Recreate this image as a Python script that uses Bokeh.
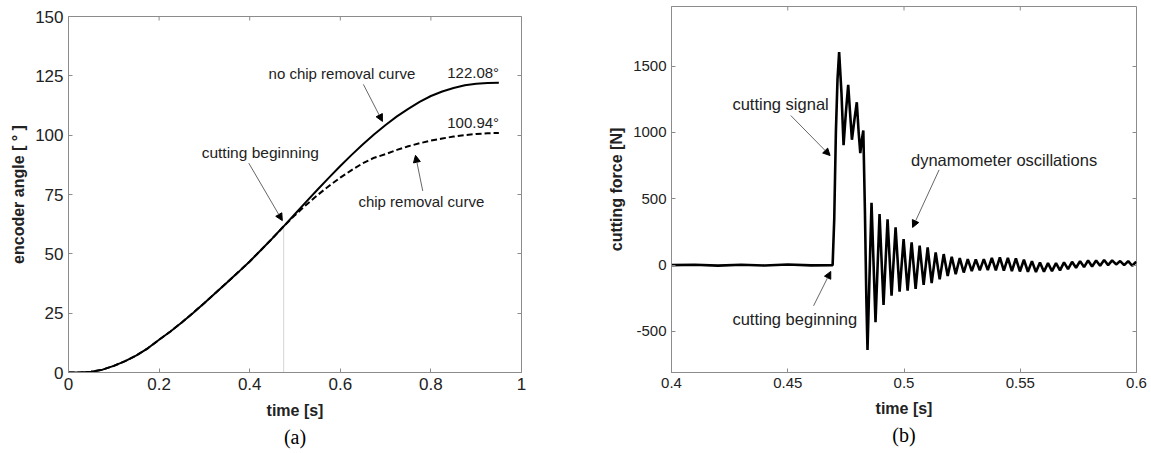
from bokeh.plotting import figure
from bokeh.models import (Range1d, FixedTicker, LinearAxis, Label, Arrow,
                          NormalHead, Title)
from bokeh.layouts import row
from bokeh.embed import file_html
from bokeh.resources import INLINE

# ---------------- data: panel (a) ----------------
time_a = [0.0, 0.025, 0.05, 0.075, 0.1, 0.125, 0.15, 0.175, 0.2, 0.225, 0.25,
          0.275, 0.3, 0.325, 0.35, 0.375, 0.4, 0.425, 0.45, 0.475, 0.5, 0.525,
          0.55, 0.575, 0.6, 0.625, 0.65, 0.675, 0.7, 0.725, 0.75, 0.775, 0.8,
          0.825, 0.85, 0.875, 0.9, 0.925, 0.95]
common = [0.0, 0.0, 0.3, 1.2, 2.8, 4.8, 7.2, 10.2, 13.8, 17.3, 21.1, 25.1, 29.3,
          33.6, 37.9, 42.3, 46.8, 51.6, 56.5, 61.6]
no_chip_tail = [66.8, 72.0, 77.1, 82.1, 87.0, 91.7, 96.2, 100.4, 104.3, 107.9,
                111.1, 114.0, 116.5, 118.4, 119.9, 121.0, 121.7, 122.0, 122.08]
chip_tail = [66.3, 70.7, 74.8, 78.6, 82.1, 85.3, 88.2, 90.5, 92.0, 93.8, 95.3,
             96.6, 97.7, 98.6, 99.4, 100.0, 100.5, 100.8, 100.94]
angle_no_chip = common + no_chip_tail
angle_chip = common + chip_tail
cut_time_a = 0.475
cut_angle_a = 61.6

xrange_a = (0, 1)
yrange_a = (0, 150)
xticks_a = [0, 0.2, 0.4, 0.6, 0.8, 1.0]
xlabels_a = ["0", "0.2", "0.4", "0.6", "0.8", "1"]
yticks_a = [0, 25, 50, 75, 100, 125, 150]
ylabels_a = ["0", "25", "50", "75", "100", "125", "150"]

# ---------------- data: panel (b) ----------------
time_b = [0.400, 0.410, 0.420, 0.430, 0.440, 0.450, 0.460, 0.4693, 0.4700,
          0.4707, 0.4714, 0.4721, 0.4731, 0.4740, 0.4750, 0.4760, 0.4768,
          0.4776, 0.4787, 0.4797, 0.4805, 0.4812, 0.4819, 0.4825, 0.4832,
          0.4838,
          0.48430, 0.48603, 0.48775, 0.48948, 0.49120, 0.49293, 0.49465,
          0.49638, 0.49810, 0.49983, 0.50155, 0.50328, 0.50500, 0.50673,
          0.50845, 0.51018, 0.51190, 0.51363, 0.51535, 0.51708, 0.51880,
          0.52053, 0.52225, 0.52398, 0.52570, 0.52743, 0.52915, 0.53088,
          0.53260, 0.53433, 0.53605, 0.53778, 0.53950, 0.54123, 0.54295,
          0.54468, 0.54640, 0.54813, 0.54985, 0.55158, 0.55330, 0.55503,
          0.55675, 0.55848, 0.56020, 0.56193, 0.56365, 0.56538, 0.56710,
          0.56883, 0.57055, 0.57228, 0.57400, 0.57573, 0.57745, 0.57918,
          0.58090, 0.58263, 0.58435, 0.58608, 0.58780, 0.58953, 0.59125,
          0.59298, 0.59470, 0.59643, 0.59815, 0.59988]
force_b = [0, 3, -4, 2, -3, 4, -2, 0, 350,
           1000, 1400, 1606, 1300, 905, 1150, 1360, 1150,
           945, 1100, 1228, 1000, 845, 950, 1015, 400,
           -250,
           -640, 470, -430, 385, -300, 345, -230,
           285, -200, 196, -192, 171, -180, 146,
           -150, 133, -135, 95, -108, 83, -82,
           63, -68, 53, -56, 45, -45, 42,
           -40, 45, -38, 55, -40, 58, -42,
           55, -45, 50, -48, 40, -50, 30,
           -52, 20, -50, 15, -45, 15, -40,
           20, -30, 25, -20, 30, -15, 35,
           -10, 35, -5, 38, 0, 35, 5,
           30, 0, 30, -5, 25]

xrange_b = (0.4, 0.6)
yrange_b = (-810, 1950)
xticks_b = [0.4, 0.45, 0.5, 0.55, 0.6]
xlabels_b = ["0.4", "0.45", "0.5", "0.55", "0.6"]
yticks_b = [-500, 0, 500, 1000, 1500]
ylabels_b = ["-500", "0", "500", "1000", "1500"]

GRAY = "#8c8c8c"
SANS = "Liberation Sans"
TICK_PX = 4
TOP_BORDER = 22


def style(p, xt, xl, yt, yl, fs, xlabel, ylabel, xr, yr, fh):
    p.grid.visible = False
    p.outline_line_color = GRAY
    p.background_fill_color = "white"
    p.border_fill_color = "white"
    for ax, t, l, name in ((p.below[0], xt, xl, xlabel),
                           (p.left[0], yt, yl, ylabel)):
        ax.ticker = FixedTicker(ticks=t)
        ax.major_label_overrides = dict(zip(t, l))
        ax.major_tick_in = TICK_PX
        ax.major_tick_out = 0
        ax.minor_tick_line_color = None
        ax.axis_line_color = GRAY
        ax.major_tick_line_color = GRAY
        ax.major_label_text_font = SANS
        ax.major_label_text_font_size = fs
        ax.major_label_text_color = "#222222"
        ax.axis_label = name
        ax.axis_label_text_font = SANS
        ax.axis_label_text_font_size = "16px"
        ax.axis_label_text_font_style = "bold"
        ax.axis_label_text_color = "#222222"
    p.below[0].axis_label_standoff = 9
    # mirrored ticks on the right side
    m = LinearAxis(ticker=FixedTicker(ticks=yt),
                   major_label_overrides={v: "" for v in yt},
                   major_label_text_font_size="1px",
                   major_label_standoff=0, major_tick_in=TICK_PX,
                   major_tick_out=0, minor_tick_line_color=None,
                   axis_line_color=None, major_tick_line_color=GRAY)
    p.add_layout(m, "right")
    # mirrored ticks along the top edge
    tick_len = (yr[1] - yr[0]) / fh * TICK_PX
    inner = [t for t in xt if xr[0] < t < xr[1]]
    p.segment(x0=inner, y0=[yr[1]] * len(inner), x1=inner,
              y1=[yr[1] - tick_len] * len(inner), line_color=GRAY,
              line_width=1)


def note(p, x, y, txt, size):
    p.add_layout(Label(x=x, y=y, text=txt, text_font=SANS,
                       text_font_size=size, text_color="#222222",
                       text_baseline="middle", text_align="left"))


def arrow(p, x0, y0, x1, y1):
    p.add_layout(Arrow(x_start=x0, y_start=y0, x_end=x1, y_end=y1,
                       line_color="#666666", line_width=1,
                       end=NormalHead(size=7, fill_color="black",
                                      line_color="black")))


def caption(p, txt, offset=0):
    p.add_layout(Title(text=txt, align="center", text_font="Liberation Serif",
                       text_font_size="20px", text_font_style="normal",
                       text_color="black", standoff=4, offset=offset),
                 "below")


# ---------------- panel (a) ----------------
# wanted frame: top 16, bottom 373 (page px)
shift_a = TOP_BORDER - 16
pa = figure(width=590, height=453 + shift_a, output_backend="svg",
            toolbar_location=None, title_location=None,
            x_range=Range1d(*xrange_a), y_range=Range1d(*yrange_a),
            min_border_left=68, min_border_right=69,
            min_border_top=TOP_BORDER, min_border_bottom=80)
pa.styles = {"margin-top": f"-{shift_a}px"}
style(pa, xticks_a, xlabels_a, yticks_a, ylabels_a, "17px",
      "time [s]", "encoder angle [ ° ]", xrange_a, yrange_a, 357)
pa.segment(x0=[cut_time_a], y0=[0], x1=[cut_time_a], y1=[cut_angle_a],
           line_color="#aaaaaa", line_width=1, line_dash="1 1")
pa.line(time_a, angle_chip, line_color="black", line_width=2, line_dash="6 3")
pa.line(time_a, angle_no_chip, line_color="black", line_width=2)

note(pa, 0.4416, 126, "no chip removal curve", "15px")
note(pa, 0.836, 126.5, "122.08°", "15px")
note(pa, 0.836, 105.5, "100.94°", "15px")
note(pa, 0.294, 92.9, "cutting beginning", "15.5px")
note(pa, 0.640, 72.0, "chip removal curve", "15px")
arrow(pa, 0.398, 88.2, 0.472, 64.0)
arrow(pa, 0.651, 121.4, 0.693, 105.8)
arrow(pa, 0.782, 76.5, 0.766, 91.5)
caption(pa, "(a)")

# ---------------- panel (b) ----------------
# wanted frame: top 6, bottom 372 (page px)
shift_b = TOP_BORDER - 6
pb = figure(width=561, height=453 + shift_b, output_backend="svg",
            toolbar_location=None, title_location=None,
            x_range=Range1d(*xrange_b), y_range=Range1d(*yrange_b),
            min_border_left=81, min_border_right=15,
            min_border_top=TOP_BORDER, min_border_bottom=81)
pb.styles = {"margin-top": f"-{shift_b}px"}
style(pb, xticks_b, xlabels_b, yticks_b, ylabels_b, "15px",
      "time [s]", "cutting force [N]", xrange_b, yrange_b, 366)
pb.line(time_b, force_b, line_color="black", line_width=2.6)

note(pb, 0.4262, 1218, "cutting signal", "16.5px")
note(pb, 0.4262, -407, "cutting beginning", "16.5px")
note(pb, 0.5030, 793, "dynamometer oscillations", "16.5px")
arrow(pb, 0.4513, 1128, 0.4682, 826)
arrow(pb, 0.4611, -307, 0.4685, -48)
arrow(pb, 0.5151, 718, 0.5037, 284)
caption(pb, "(b)", offset=-10)

layout = row(pa, pb)
open("out.html", "w").write(file_html(layout, INLINE))
